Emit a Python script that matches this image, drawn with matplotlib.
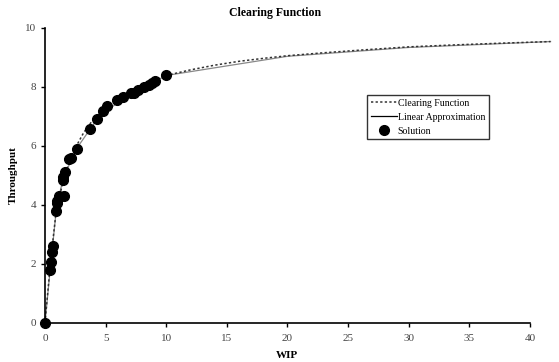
import numpy as np
import matplotlib.pyplot as plt

plt.rcParams['font.family'] = ['Liberation Serif', 'DejaVu Serif']

# clearing function curve
cf_x = [0, 0.2, 0.4, 0.6, 0.9, 1.2, 1.6, 2.0, 2.6, 3.2, 4.0, 5.0, 6.0, 7.0, 8.0, 9.0, 10.0,
        12.0, 14.0, 16.0, 18.0, 20.0, 23.0, 26.0, 30.0, 34.0, 38.0, 41.7]
cf_y = [0, 0.9, 1.8, 2.6, 3.7, 4.3, 4.95, 5.45, 6.0, 6.45, 6.9, 7.3, 7.6, 7.85, 8.05, 8.22, 8.38,
        8.57, 8.73, 8.86, 8.96, 9.05, 9.15, 9.24, 9.35, 9.42, 9.48, 9.53]

# linear approximation (piecewise segments)
la_x = [0, 0.45, 0.95, 1.5, 2.6, 4.3, 6.4, 10.0, 20.0, 30.0, 41.7]
la_y = [0, 1.9, 3.9, 4.9, 5.9, 6.9, 7.6, 8.38, 9.03, 9.33, 9.53]

# solution points
sol_x = [0, 0.41, 0.47, 0.55, 0.64, 0.91, 0.97, 1.02, 1.18, 1.57, 1.46, 1.52, 1.68, 2.0, 2.13,
         2.62, 3.72, 4.33, 4.77, 5.1, 5.93, 6.43, 7.09, 7.31, 7.64, 8.14, 8.55, 8.83, 9.1, 9.96]
sol_y = [0, 1.79, 2.07, 2.39, 2.61, 3.79, 4.05, 4.14, 4.3, 4.3, 4.84, 4.95, 5.12, 5.54, 5.59,
         5.9, 6.56, 6.9, 7.18, 7.35, 7.55, 7.64, 7.8, 7.78, 7.89, 7.98, 8.06, 8.14, 8.19, 8.39]

fig = plt.figure(figsize=(5.59, 3.62), dpi=100)
ax = fig.add_axes([0.0805, 0.1086, 0.8675, 0.8149])

ax.plot(la_x, la_y, '-', color='#888888', lw=0.9, label='Linear Approximation', clip_on=False)
ax.plot(cf_x, cf_y, color='#333333', lw=1.1, linestyle=(0, (1.5, 1.5)), label='Clearing Function', clip_on=False)
ax.plot(sol_x, sol_y, 'o', color='black', ms=7, label='Solution', clip_on=False, zorder=5)

ax.set_xlim(0, 40)
ax.set_ylim(0, 10)
ax.set_xticks(np.arange(0, 41, 5))
ax.set_yticks(np.arange(0, 11, 2))
ax.spines['top'].set_visible(False)
ax.spines['right'].set_visible(False)
ax.spines['left'].set_linewidth(1.2)
ax.spines['bottom'].set_linewidth(1.2)
ax.tick_params(labelsize=8, length=3, width=1, direction='out', colors='black')
ax.tick_params(axis='x', pad=5)
for lab in ax.get_xticklabels() + ax.get_yticklabels():
    lab.set_color('#444444')

ax.set_xlabel('WIP', fontsize=8, fontweight='bold', labelpad=6)
ax.set_ylabel('Throughput', fontsize=8, fontweight='bold', labelpad=5)
fig.text(0.492, 0.965, 'Clearing Function', ha='center', va='center', fontsize=8.5, fontweight='bold')

h, l = ax.get_legend_handles_labels()
order = [1, 0, 2]
leg = ax.legend([h[i] for i in order], [l[i] for i in order], loc='upper left',
                bbox_to_anchor=(0.665, 0.772), fontsize=7, frameon=True, fancybox=False,
                edgecolor='black', handlelength=2.6, handletextpad=0.1, borderpad=0.4,
                labelspacing=0.5, borderaxespad=0)
leg.get_frame().set_linewidth(1.0)
leg.legend_handles[1].set_color('black')

fig.savefig('out.png', dpi=100)
